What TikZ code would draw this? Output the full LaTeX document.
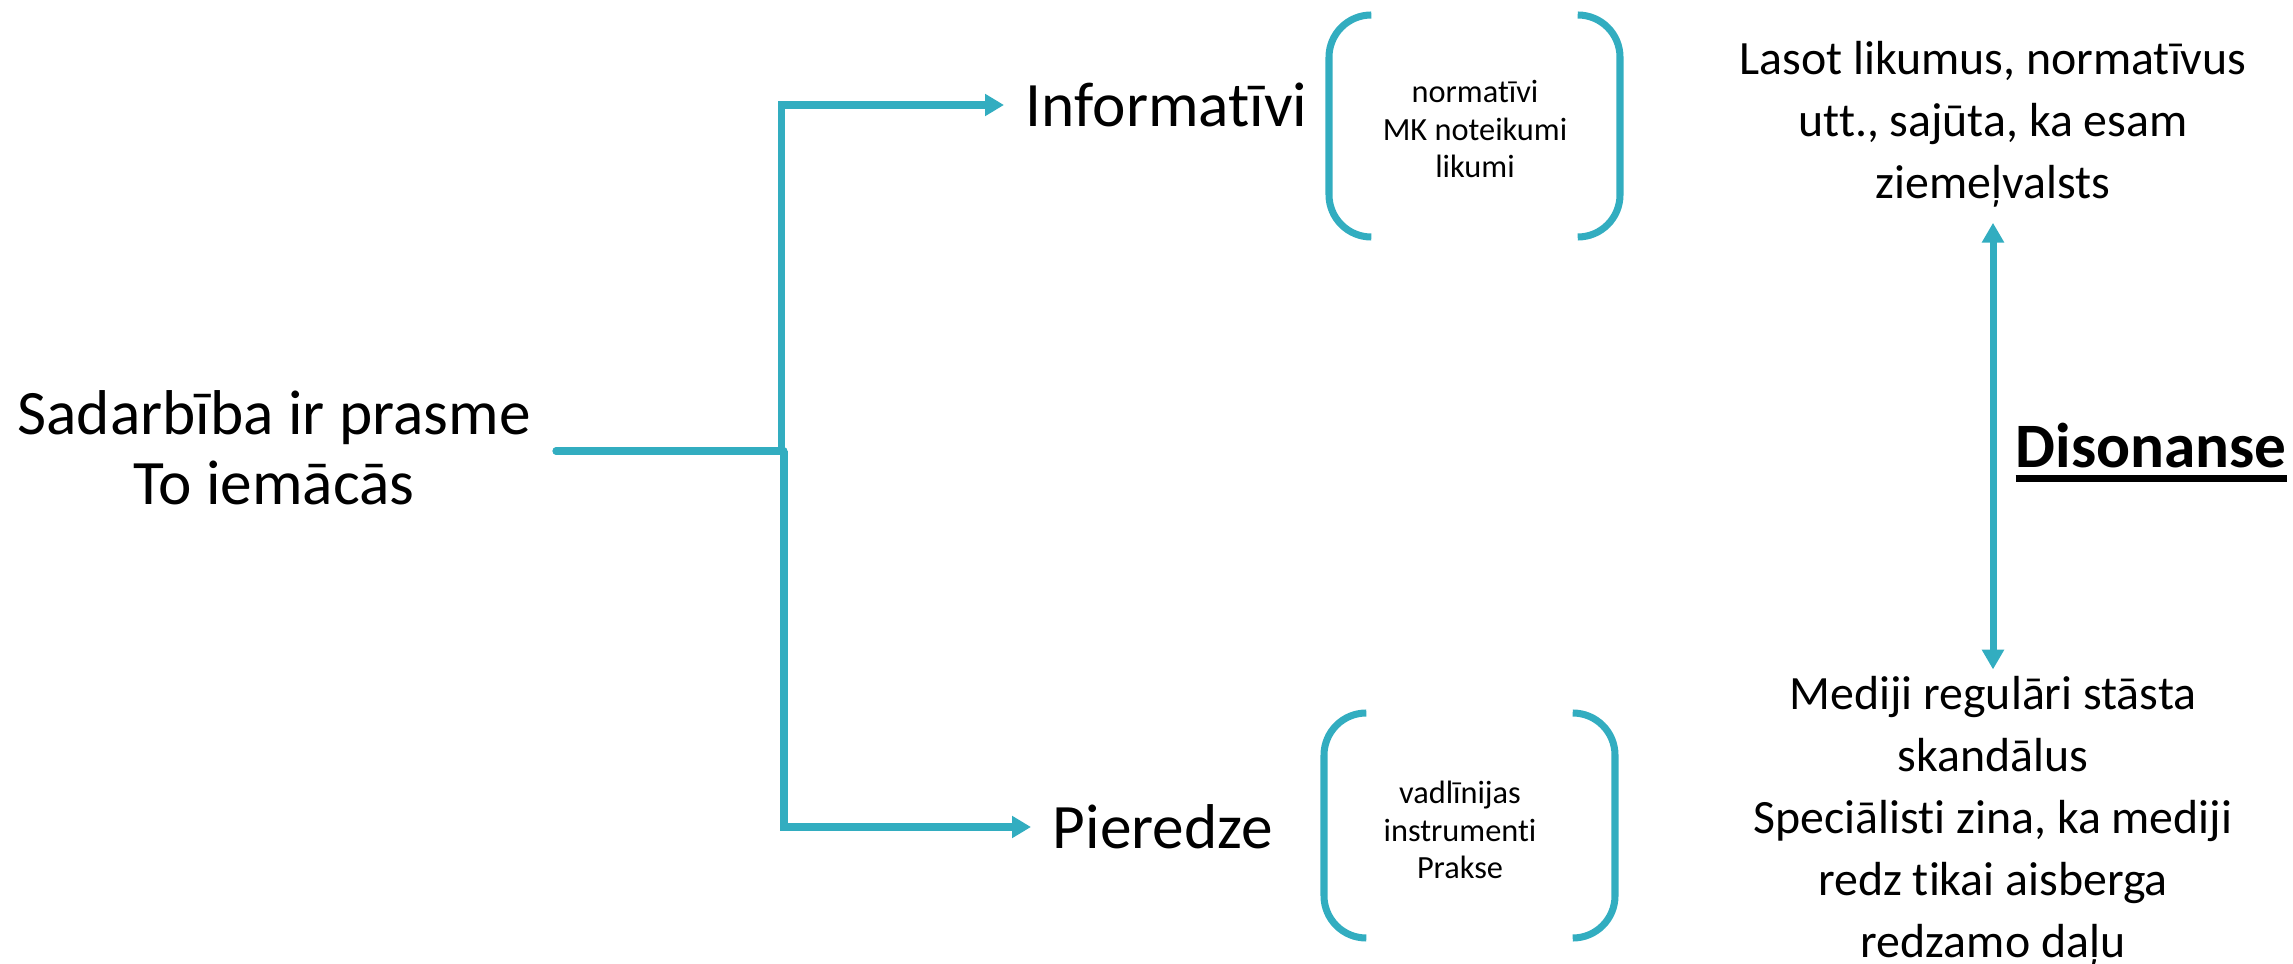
\documentclass[tikz,border=0pt]{standalone}
\usepackage{fontspec}
\setmainfont{Carlito}[Ligatures=NoCommon]
\usetikzlibrary{arrows.meta,positioning}
\definecolor{linkteal}{RGB}{50,173,192}
\newcommand{\thickul}[1]{\setbox0\hbox{#1}\rlap{\rule[-4pt]{\wd0}{1.9pt}}\box0}
\tikzset{
  post/.style={-{Triangle[length=5.4pt,width=6pt]},line width=2pt,linkteal},
  bidir/.style={{Triangle[length=5.6pt,width=6pt]}-{Triangle[length=5.6pt,width=6pt]},line width=2pt,linkteal},
}

\begin{document}
\begin{tikzpicture}[x=0.01cm,y=-0.01cm,
      trunk/.style={line width=2pt,linkteal},
      paren/.style={line width=2pt,linkteal,line cap=round,rounded corners=12pt},
      headl/.style={font=\fontsize{18}{19.9}\selectfont,align=center},
      listl/.style={font=\fontsize{9.2}{10.7}\selectfont,align=center},
      notel/.style={font=\fontsize{13.6}{17.6}\selectfont,align=center},]
      \useasboundingbox (0,0) rectangle (2293,964);
      \node[headl,inner xsep=7pt] (sad) at (274,448) {Sadarbība ir prasme\\To iemācās};
      \node[headl,anchor=west,inner xsep=6pt] (info) at (1004,105) {Informatīvi};
      \node[headl,anchor=west,inner xsep=6pt] (pier) at (1031,827) {Pieredze};
      \coordinate (split) at (784,451);

      \draw[trunk,line cap=round] (sad.east |- split) -- (split);
      \draw[post] ([xshift=-0.8pt]split) |- (info);
      \draw[post] (split) |- (pier);

      % brackets round the lists
      \draw[paren] (1371,15) -- (1329,15) -- (1329,237) -- (1371,237);
      \draw[paren] (1578,15) -- (1620,15) -- (1620,237) -- (1578,237);
      \draw[paren] (1366,713) -- (1324,713) -- (1324,938) -- (1366,938);
      \draw[paren] (1573,713) -- (1615,713) -- (1615,938) -- (1573,938);
      \node[listl] (norm) at (1475,129) {normatīvi\\MK noteikumi\\likumi};
      \node[listl] (vadl) at (1460,830) {vadlīnijas\\instrumenti\\Prakse};

      \node[notel] (lasot) at (1993,124) {Lasot likumus, normatīvus\\utt., sajūta, ka esam\\ziemeļvalsts};
      \node[notel] (mediji) at (1993,821) {Mediji regulāri stāsta\\skandālus\\Speciālisti zina, ka mediji\\redz tikai aisberga\\redzamo daļu};
      \draw[bidir,shorten <=1pt,shorten >=-1.6pt] (lasot) -- (mediji);
      \node[font=\fontsize{18}{20}\selectfont\bfseries,anchor=base west,inner sep=0pt] (dis) at (2015,468) {\thickul{Disonanse}};
\end{tikzpicture}
\end{document}
